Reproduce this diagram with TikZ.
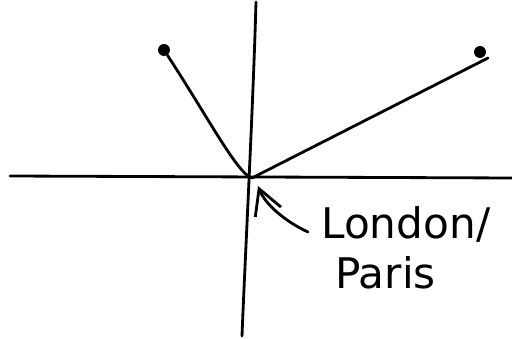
\documentclass[tikz,border=0pt]{standalone}
\usepackage{fontspec}
\setmainfont{DejaVu Sans}
\usetikzlibrary{positioning,arrows.meta}

\begin{document}
\begin{tikzpicture}[
  pen/.style={draw=black, line width=1.6pt, line cap=round, line join=round},
  blob/.style={circle, fill=black, inner sep=0pt, minimum size=2.4mm},
  lbl/.style={font=\fontsize{24}{28.5}\selectfont, align=left, inner sep=0pt}
]
\useasboundingbox (0,0) rectangle (10.24,6.78);

\coordinate (o) at (5.04, 3.22);
\coordinate (xl) at (0.20, 3.26);
\coordinate (xr) at (10.24, 3.22);
\coordinate (yt) at (5.12, 6.74);
\coordinate (yb) at (4.84, 0.06);
\node[blob] (pl) at (3.28, 5.78) {};
\node[blob] (pr) at (9.60, 5.74) {};
\coordinate (pre) at (9.76, 5.62);
\node[lbl, anchor=north west] (lab) at (6.42, 2.66) {London/\\\hspace{0.28cm}Paris};
\coordinate (tail) at (6.16, 2.14);
\coordinate (tip) at (5.16, 3.06);

% axes
\draw[pen] (xl) -- (xr);
\draw[pen] (yt) .. controls (5.06,4.6) and (4.9,1.6) .. (yb);
% the two lines
\draw[pen] (pl) .. controls (4.15,4.45) and (4.75,3.3) .. (o);
\draw[pen] (o) -- (pre);
% arrow to the origin
\draw[pen, -{Straight Barb[length=5mm, width=5.5mm]}] (tail) .. controls (5.7,2.35) and (5.3,2.7) .. (tip);

\end{tikzpicture}
\end{document}
